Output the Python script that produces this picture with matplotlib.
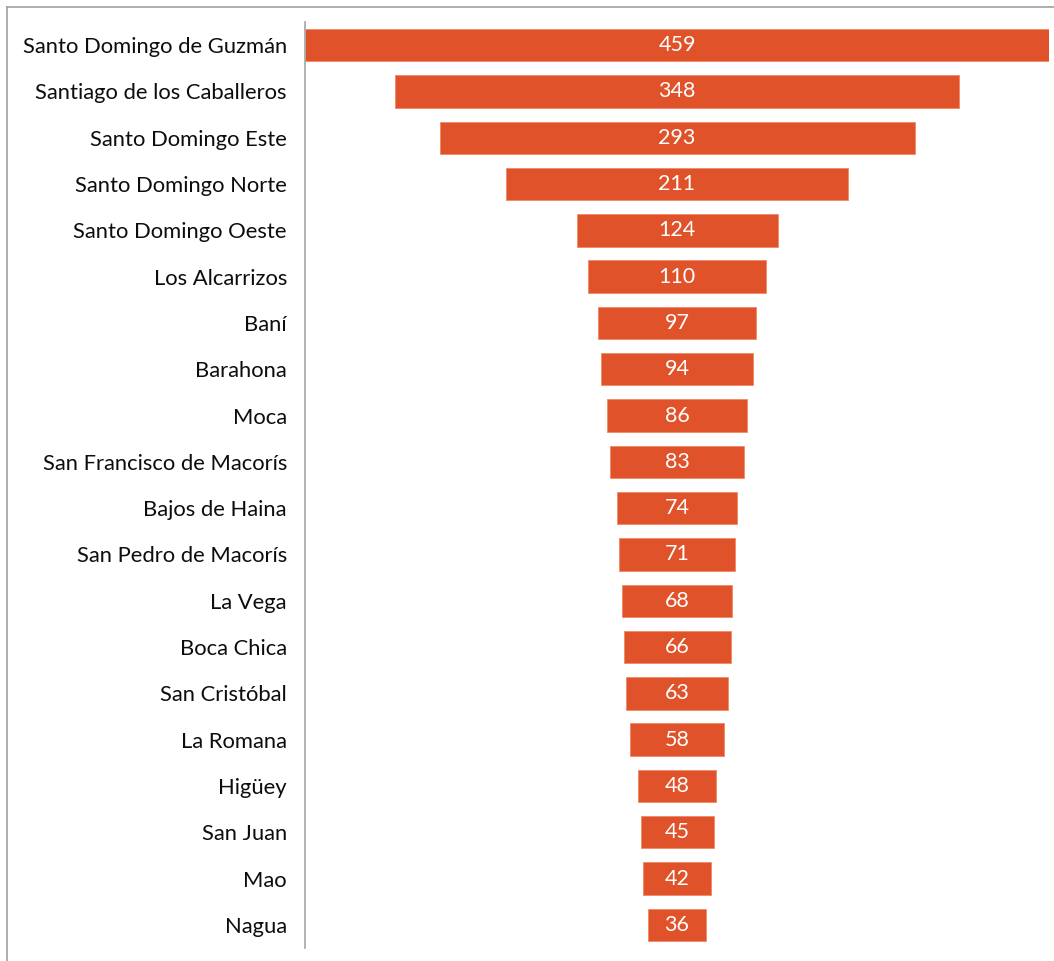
import matplotlib
matplotlib.use("Agg")
import matplotlib.pyplot as plt
from matplotlib.lines import Line2D

# Municipios y valores (funnel)
municipios = [
    "Santo Domingo de Guzmán", "Santiago de los Caballeros", "Santo Domingo Este",
    "Santo Domingo Norte", "Santo Domingo Oeste", "Los Alcarrizos", "Baní",
    "Barahona", "Moca", "San Francisco de Macorís", "Bajos de Haina",
    "San Pedro de Macorís", "La Vega", "Boca Chica", "San Cristóbal",
    "La Romana", "Higüey", "San Juan", "Mao", "Nagua",
]
valores = [459, 348, 293, 211, 124, 110, 97, 94, 86, 83, 74, 71, 68, 66, 63, 58, 48, 45, 42, 36]

plt.rcParams['font.family'] = ['Lato', 'DejaVu Sans']

fig = plt.figure(figsize=(10.54, 9.61), dpi=100)
ax = fig.add_axes([0.2894, 0.0135, 0.7059, 0.9636])

vmax = max(valores)
pos = list(range(len(valores)))
lefts = [(vmax - v) / 2 for v in valores]
ax.barh(pos, valores, left=lefts, height=0.7, color="#E0532A",
        edgecolor="#EE8A66", linewidth=0.6)

for p, v in zip(pos, valores):
    ax.text(vmax / 2, p, str(v), ha="center", va="center",
            color="white", fontsize=15.5)

ax.set_xlim(0, vmax)
ax.set_ylim(len(valores) - 0.5, -0.5)
ax.set_yticks(pos)
ax.set_yticklabels(municipios, fontsize=15.8, color="#0d0d0d")
ax.tick_params(axis="y", length=0, pad=13)
ax.set_xticks([])
for s in ["top", "right", "bottom"]:
    ax.spines[s].set_visible(False)
ax.spines["left"].set_color("#A6A6A6")
ax.spines["left"].set_linewidth(1.2)

# borde exterior del gráfico
fig.add_artist(Line2D([7 / 1054, 7 / 1054], [0, 1 - 7 / 961],
                      transform=fig.transFigure, color="#A0A0A0", lw=1.2))
fig.add_artist(Line2D([7 / 1054, 1], [1 - 7 / 961, 1 - 7 / 961],
                      transform=fig.transFigure, color="#A0A0A0", lw=1.2))

fig.savefig("out.png", dpi=100)
